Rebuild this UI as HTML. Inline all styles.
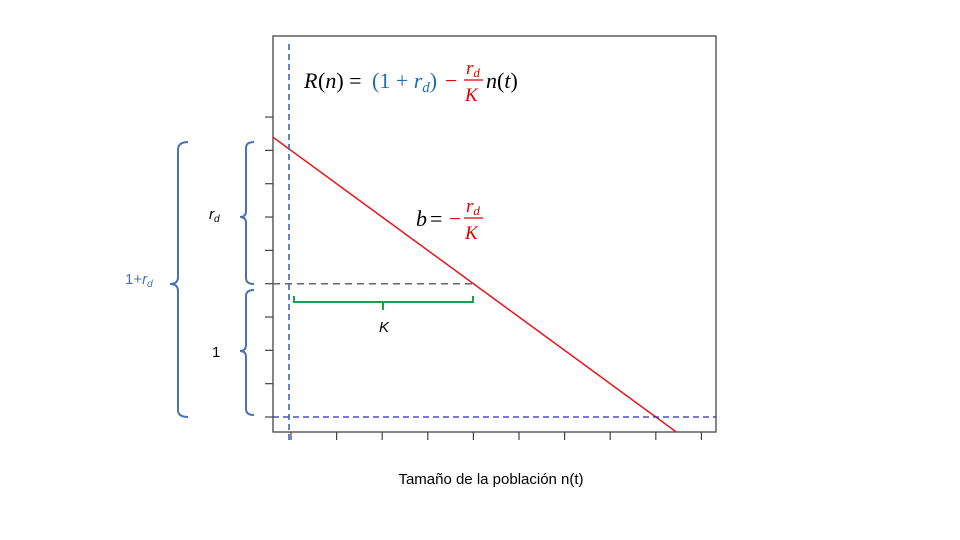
<!DOCTYPE html>
<html><head><meta charset="utf-8"><style>
body{margin:0;background:#fff;}
svg{display:block;font-family:"Liberation Sans",sans-serif;}
.m{font-family:"Liberation Serif",serif;font-size:22px;}
</style></head><body>
<svg id="c" width="960" height="540">
  <rect x="273" y="36" width="443" height="396" fill="none" stroke="#444" stroke-width="1.3"/>
  <g id="ticks"></g>
  <g id="marks"></g>
  <g class="m">
    <text x="304" y="88" font-style="italic">R</text>
    <text x="318" y="88">(<tspan font-style="italic">n</tspan>) =</text>
    <text x="372" y="88" fill="#1f6fb5">(1 + <tspan font-style="italic">r</tspan><tspan font-style="italic" font-size="15" dy="4">d</tspan><tspan dy="-4">)</tspan></text>
    <text x="445" y="88" fill="#e00000">−</text>
    <text x="466" y="74" fill="#e00000" font-style="italic" font-size="19">r<tspan font-size="13" dy="3">d</tspan></text>
    <line x1="464" y1="80" x2="483" y2="80" stroke="#e00000" stroke-width="1.3"/>
    <text x="465" y="101" fill="#e00000" font-style="italic" font-size="19">K</text>
    <text x="486" y="88"><tspan font-style="italic">n</tspan>(<tspan font-style="italic">t</tspan>)</text>
  </g>
  <g class="m">
    <text x="416" y="226" font-style="italic">b</text>
    <text x="430" y="226">=</text>
    <text x="449" y="226" fill="#e00000">−</text>
    <text x="466" y="212" fill="#e00000" font-style="italic" font-size="19">r<tspan font-size="13" dy="3">d</tspan></text>
    <line x1="464" y1="218" x2="483" y2="218" stroke="#e00000" stroke-width="1.3"/>
    <text x="465" y="239" fill="#e00000" font-style="italic" font-size="19">K</text>
  </g>
  <path d="M188,142 Q178,142 178,150 L178,277 Q178,284 170,284 Q178,284 178,291 L178,410 Q178,417 188,417" fill="none" stroke="#4a72b8" stroke-width="2"/>
  <text x="125" y="284" fill="#4a72b8" font-size="15">1+<tspan font-style="italic">r</tspan><tspan font-style="italic" font-size="10" dy="3">d</tspan></text>
  <path d="M254,142 Q246,142 246,148 L246,211 Q246,217 240,217 Q246,217 246,223 L246,278 Q246,284 254,284" fill="none" stroke="#4a72b8" stroke-width="2"/>
  <text x="209" y="219" font-size="15" font-style="italic">r<tspan font-size="10" dy="3">d</tspan></text>
  <path d="M254,290 Q246,290 246,296 L246,345 Q246,351 240,351 Q246,351 246,357 L246,409 Q246,415 254,415" fill="none" stroke="#4a72b8" stroke-width="2"/>
  <text x="212" y="357" font-size="15">1</text>
  <path d="M294,296 L294,302 L383,302 L383,310 M383,302 L473,302 L473,296" fill="none" stroke="#1aa050" stroke-width="2"/>
  <text x="379" y="332" font-size="15" font-style="italic">K</text>
  <text x="491" y="484" font-size="15" text-anchor="middle">Tamaño de la población n(t)</text>
</svg>
<script>
const xTicks=[0,1,2,3,4,5,6,7,8,9];
const yTicks=[0,0.25,0.5,0.75,1,1.25,1.5,1.75,2,2.25];
const intercept=[2];
const slope=[-0.25];
const carryingK=[4];
const baseline=[1];
const zeroLine=[0];
const X=n=>291+n*45.6;
const Y=v=>417-v*133.3;
const NS="http://www.w3.org/2000/svg";
function mk(p,t,a){const e=document.createElementNS(NS,t);for(const k in a)e.setAttribute(k,a[k]);p.appendChild(e);return e;}
const tg=document.getElementById('ticks'),mg=document.getElementById('marks');
xTicks.forEach(t=>{const l=mk(tg,'line',{x1:X(t),x2:X(t),y1:432,y2:440,stroke:'#444','stroke-width':1.2});

});
yTicks.forEach(t=>{const l=mk(tg,'line',{x1:265,x2:273,y1:Y(t),y2:Y(t),stroke:'#444','stroke-width':1.2});

});
const cp=mk(document.getElementById('c'),'clipPath',{id:'cl'});mk(cp,'rect',{x:273,y:36,width:443,height:396});
const g2=mk(mg,'g',{'clip-path':'url(#cl)'});
const nA=(273-291)/45.6,nB=(716-291)/45.6;
const f=n=>intercept[0]+slope[0]*n;
const rl=mk(g2,'line',{x1:X(nA),y1:Y(f(nA)),x2:X(nB),y2:Y(f(nB)),stroke:'#e8141c','stroke-width':1.5});


const gd=mk(g2,'line',{x1:273,x2:X(carryingK[0]),y1:Y(baseline[0]),y2:Y(baseline[0]),stroke:'#666','stroke-width':1.5,'stroke-dasharray':'7,5'});


const zd=mk(g2,'line',{x1:273,x2:716,y1:Y(zeroLine[0]),y2:Y(zeroLine[0]),stroke:'#2a2ab0','stroke-width':1.3,'stroke-dasharray':'6,4'});


const vd=mk(mg,'line',{x1:289,x2:289,y1:44,y2:440,stroke:'#3a66c0','stroke-width':1.6,'stroke-dasharray':'6,4'});


</script>
</body></html>
